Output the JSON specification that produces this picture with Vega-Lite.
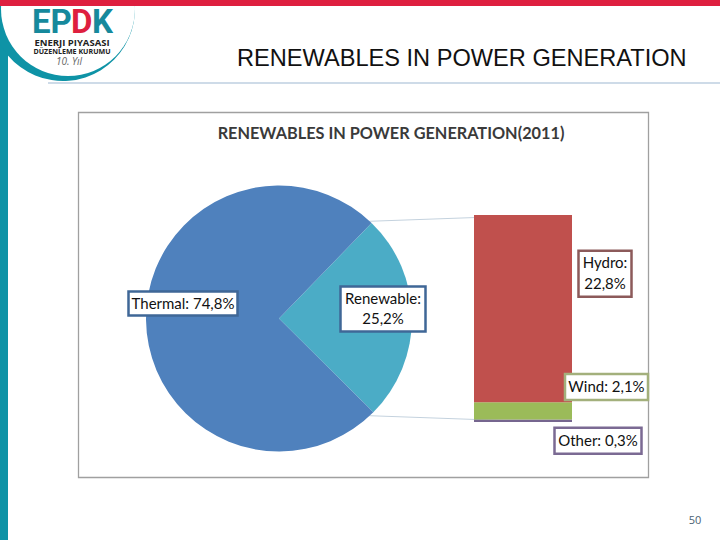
{
  "$schema": "https://vega.github.io/schema/vega-lite/v6.json",
  "width": 720,
  "height": 540,
  "padding": 0,
  "autosize": "none",
  "background": "white",
  "config": {"view": {"stroke": null}},
  "data": {"values": [{"note": "decoration"}]},
  "datasets": {
    "total": [
      {"group": "Total", "source": "Renewable", "share": 25.2, "rank": 1},
      {"group": "Total", "source": "Thermal", "share": 74.8, "rank": 2}
    ],
    "renewable": [
      {"group": "Renewable", "source": "Other", "share": 0.3, "rank": 1},
      {"group": "Renewable", "source": "Wind", "share": 2.1, "rank": 2},
      {"group": "Renewable", "source": "Hydro", "share": 22.8, "rank": 3}
    ],
    "connectors": [
      {"group": "Total", "edge": "top", "level": 24.04},
      {"group": "Renewable", "edge": "top", "level": 25.1},
      {"group": "Total", "edge": "bottom", "level": 1.16},
      {"group": "Renewable", "edge": "bottom", "level": 0.1}
    ],
    "labels": [
      {"group": "Total", "source": "Thermal", "mid": 12.6, "label": "Thermal: 74,8%"},
      {"group": "Total", "source": "Renewable", "mid": 12.6, "label": "Renewable:\n25,2%"},
      {"group": "Renewable", "source": "Hydro", "mid": 13.8, "label": "Hydro:\n22,8%"},
      {"group": "Renewable", "source": "Wind", "mid": 1.35, "label": "Wind: 2,1%"},
      {"group": "Renewable", "source": "Other", "mid": 0.15, "label": "Other: 0,3%"}
    ]
  },
  "layer": [
    {"mark": {"type": "rect", "fill": "#0E93A6"}, "encoding": {"x": {"value": 0}, "x2": {"value": 8}, "y": {"value": 0}, "y2": {"value": 540}}},
    {"mark": {"type": "arc", "radius": 72, "theta": 1.4, "theta2": 5.2, "fill": "#0E93A6"}, "encoding": {"x": {"value": 63}, "y": {"value": 9}}},
    {"mark": {"type": "arc", "radius": 67, "theta": 0, "theta2": 6.284, "fill": "white"}, "encoding": {"x": {"value": 68}, "y": {"value": 9}}},
    {"mark": {"type": "rect", "fill": "#DE1F3F"}, "encoding": {"x": {"value": 0}, "x2": {"value": 720}, "y": {"value": 0}, "y2": {"value": 6}}},
    {"mark": {"type": "rule", "stroke": "#9DB7D2", "strokeWidth": 1.2}, "encoding": {"x": {"value": 48}, "x2": {"value": 720}, "y": {"value": 83}}},
    {"mark": {"type": "rect", "fill": "white", "stroke": "#A0A0A0", "strokeWidth": 1.3}, "encoding": {"x": {"value": 78.5}, "x2": {"value": 648.5}, "y": {"value": 112.5}, "y2": {"value": 477.5}}},
    {"mark": {"type": "text", "text": "RENEWABLES IN POWER GENERATION", "align": "left", "font": "Liberation Sans", "fontSize": 23.6, "fill": "#111111"}, "encoding": {"x": {"value": 237}, "y": {"value": 59}}},
    {"mark": {"type": "text", "text": "EP", "align": "left", "font": "Roboto", "fontWeight": "bold", "fontSize": 33, "fill": "#16899C"}, "encoding": {"x": {"value": 32}, "y": {"value": 23}}},
    {"mark": {"type": "text", "text": "D", "align": "left", "font": "Roboto", "fontWeight": "bold", "fontSize": 33, "fill": "#DE1F3F"}, "encoding": {"x": {"value": 71}, "y": {"value": 23}}},
    {"mark": {"type": "text", "text": "K", "align": "left", "font": "Roboto", "fontWeight": "bold", "fontSize": 33, "fill": "#16899C"}, "encoding": {"x": {"value": 92}, "y": {"value": 23}}},
    {"mark": {"type": "text", "text": "ENERJI PIYASASI", "font": "Open Sans", "fontWeight": "bold", "fontSize": 9.5, "fill": "#222222"}, "encoding": {"x": {"value": 72}, "y": {"value": 43}}},
    {"mark": {"type": "text", "text": "DÜZENLEME KURUMU", "font": "Open Sans", "fontWeight": "bold", "fontSize": 7.1, "fill": "#222222"}, "encoding": {"x": {"value": 72}, "y": {"value": 52}}},
    {"mark": {"type": "text", "text": "10. Yıl", "font": "Open Sans", "fontStyle": "italic", "fontSize": 10, "fill": "#666666"}, "encoding": {"x": {"value": 69}, "y": {"value": 62}}},
    {"mark": {"type": "text", "text": "50", "font": "Open Sans", "fontSize": 11, "fill": "#4A6272"}, "encoding": {"x": {"value": 695}, "y": {"value": 521}}},
    {"mark": {"type": "text", "text": "RENEWABLES IN POWER GENERATION(2011)", "font": "Lato", "fontWeight": "bold", "fontSize": 16.3, "fill": "#3A3A3A"}, "encoding": {"x": {"value": 391}, "y": {"value": 134}}},
    {
      "encoding": {
        "x": {"field": "group", "type": "nominal", "axis": null,
          "scale": {"type": "point", "domain": ["Total", "Renewable"], "range": [279, 523], "padding": 0}},
        "y": {"type": "quantitative", "axis": null,
          "scale": {"domain": [0, 25.2], "range": [422, 215], "nice": false, "zero": false}}
      },
      "layer": [
        {
          "data": {"name": "connectors"},
          "mark": {"type": "line", "stroke": "#C4D2DE", "strokeWidth": 1},
          "encoding": {
            "y": {"field": "level", "type": "quantitative"},
            "detail": {"field": "edge"}
          }
        },
        {
          "data": {"name": "total"},
          "mark": {"type": "arc", "radius": 133},
          "encoding": {
            "y": {"datum": 12.6},
            "theta": {"field": "share", "type": "quantitative", "stack": true,
              "scale": {"domain": [0, 100], "range": [0.77, 7.053]}},
            "order": {"field": "rank"},
            "fill": {"field": "source", "legend": null,
              "scale": {"domain": ["Thermal", "Renewable", "Hydro", "Wind", "Other"],
                "range": ["#4F81BD", "#4BACC6", "#C0504D", "#9BBB59", "#76668F"]}}
          }
        },
        {
          "data": {"name": "renewable"},
          "mark": {"type": "bar", "width": 98},
          "encoding": {
            "y": {"field": "share", "type": "quantitative", "stack": true},
            "order": {"field": "rank"},
            "fill": {"field": "source", "legend": null}
          }
        },
        {
          "data": {"name": "labels"},
          "transform": [{"filter": "datum.source === 'Thermal'"}],
          "encoding": {"y": {"field": "mid", "type": "quantitative"}},
          "layer": [
            {"mark": {"type": "rect", "width": 109, "height": 24, "xOffset": -96, "yOffset": -15, "fill": "white", "stroke": "#3F6797", "strokeWidth": 2.5}},
            {"mark": {"type": "text", "xOffset": -96, "yOffset": -15, "font": "Lato", "fontSize": 15, "fill": "#111111"}, "encoding": {"text": {"field": "label"}}}
          ]
        },
        {
          "data": {"name": "labels"},
          "transform": [{"filter": "datum.source === 'Renewable'"}],
          "encoding": {"y": {"field": "mid", "type": "quantitative"}},
          "layer": [
            {"mark": {"type": "rect", "width": 85, "height": 45, "xOffset": 104, "yOffset": -9.5, "fill": "white", "stroke": "#3F6797", "strokeWidth": 2.5}},
            {"mark": {"type": "text", "xOffset": 104, "yOffset": -20, "lineBreak": "\n", "lineHeight": 20.5, "font": "Lato", "fontSize": 15, "fill": "#111111"}, "encoding": {"text": {"field": "label"}}}
          ]
        },
        {
          "data": {"name": "labels"},
          "transform": [{"filter": "datum.source === 'Hydro'"}],
          "encoding": {"y": {"field": "mid", "type": "quantitative"}},
          "layer": [
            {"mark": {"type": "rect", "width": 53, "height": 46, "xOffset": 82, "yOffset": -35, "fill": "white", "stroke": "#8C5A5A", "strokeWidth": 2.5}},
            {"mark": {"type": "text", "xOffset": 82, "yOffset": -45.6, "lineBreak": "\n", "lineHeight": 20.5, "font": "Lato", "fontSize": 15, "fill": "#111111"}, "encoding": {"text": {"field": "label"}}}
          ]
        },
        {
          "data": {"name": "labels"},
          "transform": [{"filter": "datum.source === 'Wind'"}],
          "encoding": {"y": {"field": "mid", "type": "quantitative"}},
          "layer": [
            {"mark": {"type": "rect", "width": 83, "height": 26, "xOffset": 83.5, "yOffset": -24, "fill": "white", "stroke": "#A3B07C", "strokeWidth": 2.5}},
            {"mark": {"type": "text", "xOffset": 83.5, "yOffset": -24, "font": "Lato", "fontSize": 15, "fill": "#111111"}, "encoding": {"text": {"field": "label"}}}
          ]
        },
        {
          "data": {"name": "labels"},
          "transform": [{"filter": "datum.source === 'Other'"}],
          "encoding": {"y": {"field": "mid", "type": "quantitative"}},
          "layer": [
            {"mark": {"type": "rect", "width": 87, "height": 26, "xOffset": 75, "yOffset": 20, "fill": "white", "stroke": "#7B6A93", "strokeWidth": 2.5}},
            {"mark": {"type": "text", "xOffset": 75, "yOffset": 20, "font": "Lato", "fontSize": 15, "fill": "#111111"}, "encoding": {"text": {"field": "label"}}}
          ]
        }
      ]
    }
  ]
}
